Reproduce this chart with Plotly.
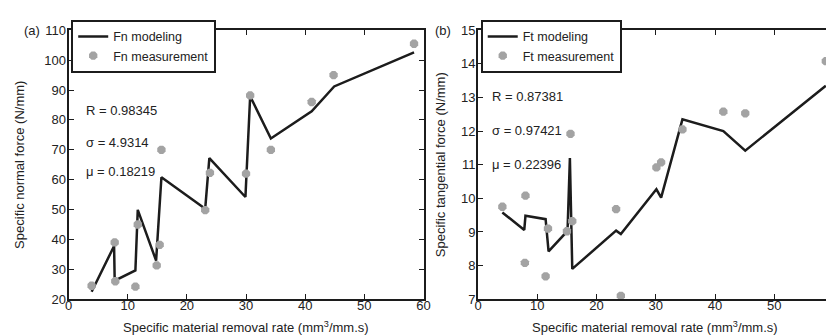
import plotly.graph_objects as go

# ---- Data: (a) normal force ----
fn_meas_x = [3.9, 7.8, 7.9, 11.3, 11.7, 14.9, 15.4, 15.7, 23.1, 23.9, 30.0, 30.7, 34.2, 41.1, 44.8, 58.4]
fn_meas_y = [24.5, 39.0, 26.0, 24.2, 45.0, 31.3, 38.2, 70.0, 49.8, 62.3, 62.0, 88.2, 70.0, 86.0, 95.0, 105.5]
fn_model_x = [3.9, 7.7, 7.8, 11.3, 11.7, 14.8, 15.7, 23.1, 23.8, 29.9, 30.7, 34.2, 41.1, 44.9, 58.4]
fn_model_y = [22.5, 37.8, 26.2, 29.6, 49.9, 32.9, 60.8, 50.3, 67.2, 54.2, 87.9, 73.8, 82.9, 91.2, 102.6]

# ---- Data: (b) tangential force ----
ft_meas_x = [4.1, 8.0, 7.9, 11.8, 11.4, 15.0, 15.9, 15.6, 23.3, 24.1, 30.1, 30.9, 34.5, 41.4, 45.1, 58.7]
ft_meas_y = [9.75, 10.08, 8.08, 9.1, 7.68, 9.02, 9.32, 11.92, 9.68, 7.1, 10.92, 11.07, 12.05, 12.58, 12.53, 14.08]
ft_model_x = [4.1, 7.8, 8.0, 11.4, 11.9, 15.1, 15.5, 15.9, 23.3, 24.1, 30.1, 30.9, 34.5, 41.4, 45.1, 58.7]
ft_model_y = [9.58, 9.06, 9.48, 9.38, 8.42, 9.03, 11.2, 7.9, 9.04, 8.94, 10.27, 10.02, 12.35, 12.0, 11.42, 13.35]

x_ticks = [0, 10, 20, 30, 40, 50, 60]
fn_ticks = [20, 30, 40, 50, 60, 70, 80, 90, 100, 110]
ft_ticks = [7, 8, 9, 10, 11, 12, 13, 14, 15]

W, H = 834, 335
FONT = "Liberation Sans, Arial, sans-serif"
LINE_C = "#1c1c1c"
MARK_C = "#a3a3a3"
X_TITLE = "Specific material removal rate (mm<sup>3</sup>/mm.s)"


def px_x(p):
    return p / W


def px_y(p):
    return 1 - p / H


fig = go.Figure()

fig.add_trace(go.Scatter(x=fn_model_x, y=fn_model_y, mode="lines", name="Fn modeling",
                         line=dict(color=LINE_C, width=2.5), xaxis="x", yaxis="y", legend="legend"))
fig.add_trace(go.Scatter(x=fn_meas_x, y=fn_meas_y, mode="markers", name="Fn measurement",
                         marker=dict(color=MARK_C, size=9, symbol="octagon"), xaxis="x", yaxis="y",
                         legend="legend"))
fig.add_trace(go.Scatter(x=ft_model_x, y=ft_model_y, mode="lines", name="Ft modeling",
                         line=dict(color=LINE_C, width=2.5), xaxis="x2", yaxis="y2", legend="legend2"))
fig.add_trace(go.Scatter(x=ft_meas_x, y=ft_meas_y, mode="markers", name="Ft measurement",
                         marker=dict(color=MARK_C, size=9, symbol="octagon"), xaxis="x2", yaxis="y2",
                         legend="legend2"))

ax_common = dict(showgrid=False, zeroline=False, showline=True, linecolor=LINE_C, linewidth=2,
                 mirror="ticks", ticks="inside", ticklen=5, tickwidth=1, tickcolor=LINE_C,
                 tickfont=dict(family=FONT, size=13, color="#222"))

ydom = [px_y(297.5), px_y(16)]
fig.update_layout(
    width=W, height=H, margin=dict(l=0, r=0, t=0, b=0),
    paper_bgcolor="white", plot_bgcolor="white",
    font=dict(family=FONT, size=12, color="#222"),
    xaxis=dict(domain=[px_x(57.3), px_x(417)], range=[0, 60], tickvals=x_ticks, anchor="y",
               ticklabelstandoff=-7, **ax_common),
    yaxis=dict(domain=ydom, range=[20, 110], tickvals=fn_ticks, anchor="x", ticklabelstandoff=-2,
               title=dict(text="Specific normal force (N/mm)", font=dict(family=FONT, size=13), standoff=17),
               **ax_common),
    xaxis2=dict(domain=[px_x(472.3), px_x(832.5)], range=[0, 60], tickvals=x_ticks, anchor="y2",
                ticklabelstandoff=-7, **ax_common),
    yaxis2=dict(domain=ydom, range=[7, 15], tickvals=ft_ticks, anchor="x2", ticklabelstandoff=-2,
                title=dict(text="Specific tangential force (N/mm)", font=dict(family=FONT, size=13), standoff=12),
                **ax_common),
    legend=dict(x=px_x(60), y=px_y(5), xanchor="left", yanchor="top", bgcolor="white",
                bordercolor=LINE_C, borderwidth=2, font=dict(family=FONT, size=12.5),
                tracegroupgap=0, itemwidth=30),
    legend2=dict(x=px_x(475), y=px_y(5), xanchor="left", yanchor="top", bgcolor="white",
                 bordercolor=LINE_C, borderwidth=2, font=dict(family=FONT, size=12.5),
                 tracegroupgap=0, itemwidth=30),
)

ann_font = dict(family=FONT, size=13, color="#222")
fig.add_annotation(text="(a)", x=px_x(30), y=px_y(16), xref="paper", yref="paper",
                   xanchor="right", yanchor="middle", showarrow=False, font=ann_font)
fig.add_annotation(text="(b)", x=px_x(447), y=px_y(16), xref="paper", yref="paper",
                   xanchor="right", yanchor="middle", showarrow=False, font=ann_font)
fig.add_annotation(text=X_TITLE, x=px_x(237), y=px_y(327), xref="paper", yref="paper",
                   xanchor="center", yanchor="middle", showarrow=False, font=ann_font)
fig.add_annotation(text=X_TITLE, x=px_x(652), y=px_y(327), xref="paper", yref="paper",
                   xanchor="center", yanchor="middle", showarrow=False, font=ann_font)

for txt, yy in [("R = 0.98345", 100), ("σ = 4.9314", 133), ("μ = 0.18219", 164)]:
    fig.add_annotation(text=txt, x=px_x(73), y=px_y(yy), xref="paper", yref="paper",
                       xanchor="left", yanchor="middle", showarrow=False, font=ann_font)
for txt, yy in [("R = 0.87381", 85), ("σ = 0.97421", 121), ("μ = 0.22396", 157)]:
    fig.add_annotation(text=txt, x=px_x(484), y=px_y(yy), xref="paper", yref="paper",
                       xanchor="left", yanchor="middle", showarrow=False, font=ann_font)

fig.write_html("out.html")
